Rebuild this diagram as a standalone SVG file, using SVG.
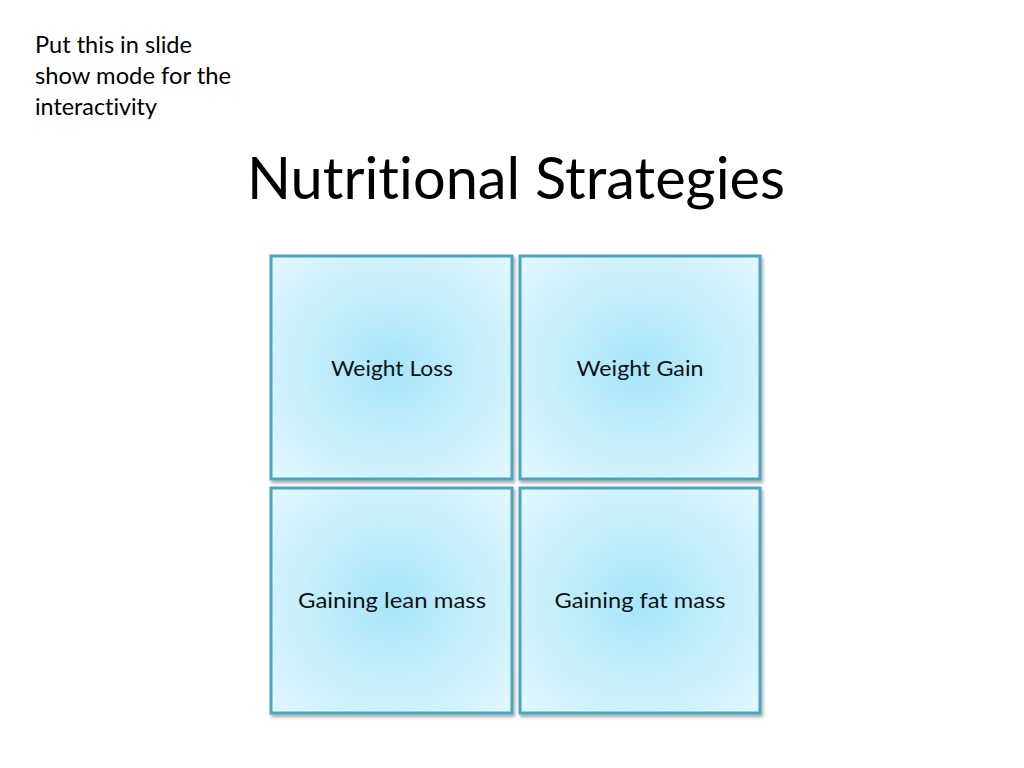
<svg xmlns="http://www.w3.org/2000/svg" width="1024" height="768" viewBox="0 0 1024 768">
<defs>
<radialGradient id="g" cx="50%" cy="50%" r="70%">
<stop offset="0" stop-color="#a6e5fa"/>
<stop offset="0.6" stop-color="#cbf0fc"/>
<stop offset="1" stop-color="#e2f7fd"/>
</radialGradient>
<filter id="sh" x="-5%" y="-5%" width="112%" height="112%">
<feDropShadow dx="1.5" dy="2.5" stdDeviation="1.5" flood-color="#000" flood-opacity="0.35"/>
</filter>
</defs>
<style>
text{font-variant-ligatures:none;font-feature-settings:"liga" 0,"clig" 0}
.box{fill:url(#g);stroke:#4ea4c0;stroke-width:3;filter:url(#sh)}
.lbl{font-family:Lato,"Open Sans","Liberation Sans",sans-serif;font-size:22px;fill:#111;text-anchor:middle}
.note{font-family:Lato,"Open Sans","Liberation Sans",sans-serif;font-size:23px;fill:#000}
.title{font-family:Lato,"Open Sans","Liberation Sans",sans-serif;font-size:58px;fill:#000}
</style>
<rect width="1024" height="768" fill="#fff"/>
<text class="note" x="35" y="53" textLength="157" lengthAdjust="spacingAndGlyphs">Put this in slide</text>
<text class="note" x="35" y="84" textLength="196" lengthAdjust="spacingAndGlyphs">show mode for the</text>
<text class="note" x="35" y="115" textLength="122" lengthAdjust="spacingAndGlyphs">interactivity</text>
<text class="title" x="247" y="199" textLength="538" lengthAdjust="spacingAndGlyphs">Nutritional Strategies</text>
<g id="connectors"></g>
<g id="weight-loss">
<rect class="box" x="271" y="256" width="241" height="223"/>
<text class="lbl" x="392" y="376" textLength="122" lengthAdjust="spacingAndGlyphs">Weight Loss</text>
</g>
<g id="weight-gain">
<rect class="box" x="520" y="256" width="240" height="223"/>
<text class="lbl" x="640" y="376" textLength="127" lengthAdjust="spacingAndGlyphs">Weight Gain</text>
</g>
<g id="gaining-lean-mass">
<rect class="box" x="271" y="488" width="241" height="225"/>
<text class="lbl" x="392" y="608" textLength="188" lengthAdjust="spacingAndGlyphs">Gaining lean mass</text>
</g>
<g id="gaining-fat-mass">
<rect class="box" x="520" y="488" width="240" height="225"/>
<text class="lbl" x="640" y="608" textLength="171" lengthAdjust="spacingAndGlyphs">Gaining fat mass</text>
</g>
</svg>
